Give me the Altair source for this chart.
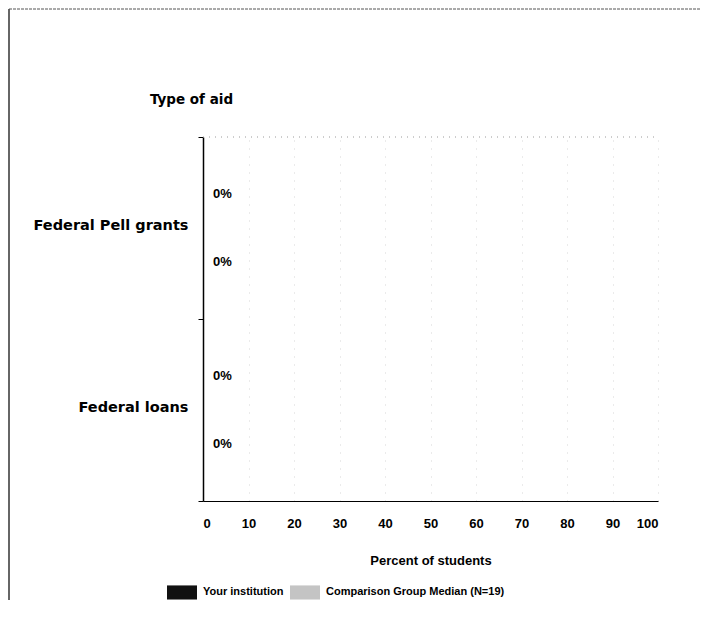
import altair as alt
import pandas as pd

# ---- data ----
categories = ["Federal Pell grants", "Federal loans"]
series = ["Your institution", "Comparison Group Median (N=19)"]
your_institution = [0, 0]
comparison_median = [0, 0]
x_ticks = [0, 10, 20, 30, 40, 50, 60, 70, 80, 90, 100]
series_colors = ["#111111", "#c4c4c4"]

rows = []
for i, cat in enumerate(categories):
    for s, vals in zip(series, [your_institution, comparison_median]):
        rows.append({"category": cat, "series": s, "value": vals[i],
                     "label": f"{vals[i]:.0f}%"})
df = pd.DataFrame(rows)

FONT = "Liberation Sans"
WIDE = "DejaVu Sans"
W, H = 455, 364

y_enc = alt.Y("category:N", sort=categories,
              scale=alt.Scale(paddingInner=0, paddingOuter=0),
              axis=alt.Axis(title="Type of aid", titleAngle=0, titleX=-12, titleY=-38,
                            titleAlign="center", titleBaseline="middle",
                            titleFontSize=13.5, titleFontWeight="bold", titleFont=WIDE,
                            titleColor="#000000",
                            labelFont=WIDE, labelFontSize=14.5, labelFontWeight="bold",
                            labelColor="#000000", labelPadding=10, labelOffset=-3,
                            tickBand="extent", tickSize=5, tickColor="#000000",
                            domainColor="#000000", domainWidth=1.5, grid=False))
yoff_enc = alt.YOffset("series:N", sort=series,
                       scale=alt.Scale(paddingInner=0.5, paddingOuter=0.59))
x_enc = alt.X("value:Q", scale=alt.Scale(domain=[0, 100]),
              axis=alt.Axis(values=x_ticks, title="Percent of students",
                            titleFont=FONT, titleFontSize=13, titleFontWeight="bold",
                            titleColor="#000000", titlePadding=24,
                            labelFont=FONT, labelFontSize=13, labelFontWeight="bold",
                            labelColor="#000000", labelPadding=16, ticks=False,
                            domainColor="#000000", domainWidth=1,
                            grid=True, gridColor="#d6d6d6", gridDash=[1, 7],
                            gridWidth=1))

base = alt.Chart(df)

bars = base.mark_bar().encode(
    x=x_enc,
    y=y_enc,
    yOffset=yoff_enc,
    color=alt.Color("series:N", sort=series,
                    scale=alt.Scale(domain=series, range=series_colors),
                    legend=alt.Legend(title=None, orient="none", legendX=-36, legendY=440,
                                      direction="horizontal",
                                      symbolType="M-1,-0.47H1V0.47H-1Z",
                                      symbolSize=900, symbolStrokeWidth=0,
                                      symbolOpacity=1,
                                      labelFont=FONT, labelFontSize=11,
                                      labelFontWeight="bold", labelColor="#000000",
                                      labelOffset=6, columnPadding=6,
                                      labelLimit=300)),
)

text = base.mark_text(align="left", baseline="middle", dx=10, font=FONT,
                      fontSize=13, fontWeight="bold", color="#000000").encode(
    x="value:Q",
    y=alt.Y("category:N", sort=categories),
    yOffset=alt.YOffset("series:N", sort=series),
    text="label:N",
)

frame_df = pd.DataFrame({"k": [0]})
top_dots = alt.Chart(frame_df).mark_rule(color="#9a9a9a", strokeDash=[1, 5]).encode(
    x=alt.value(0), x2=alt.value(W), y=alt.value(0))
left_border = alt.Chart(frame_df).mark_rule(color="#333333", strokeWidth=1.5).encode(
    x=alt.value(-194), y=alt.value(-128), y2=alt.value(463))
top_border = alt.Chart(frame_df).mark_rule(color="#555555", strokeWidth=1,
                                          strokeDash=[3, 1]).encode(
    x=alt.value(-194), x2=alt.value(W + 43), y=alt.value(-128))

chart = alt.layer(top_dots, left_border, top_border, bars, text).properties(
    width=W, height=H,
    padding={"left": 195, "top": 129, "right": 43, "bottom": 117},
    autosize=alt.AutoSizeParams(type="none"),
    background="#ffffff",
).configure_view(stroke=None)

chart.save("out.html", embed_options={"renderer": "svg", "actions": False})
